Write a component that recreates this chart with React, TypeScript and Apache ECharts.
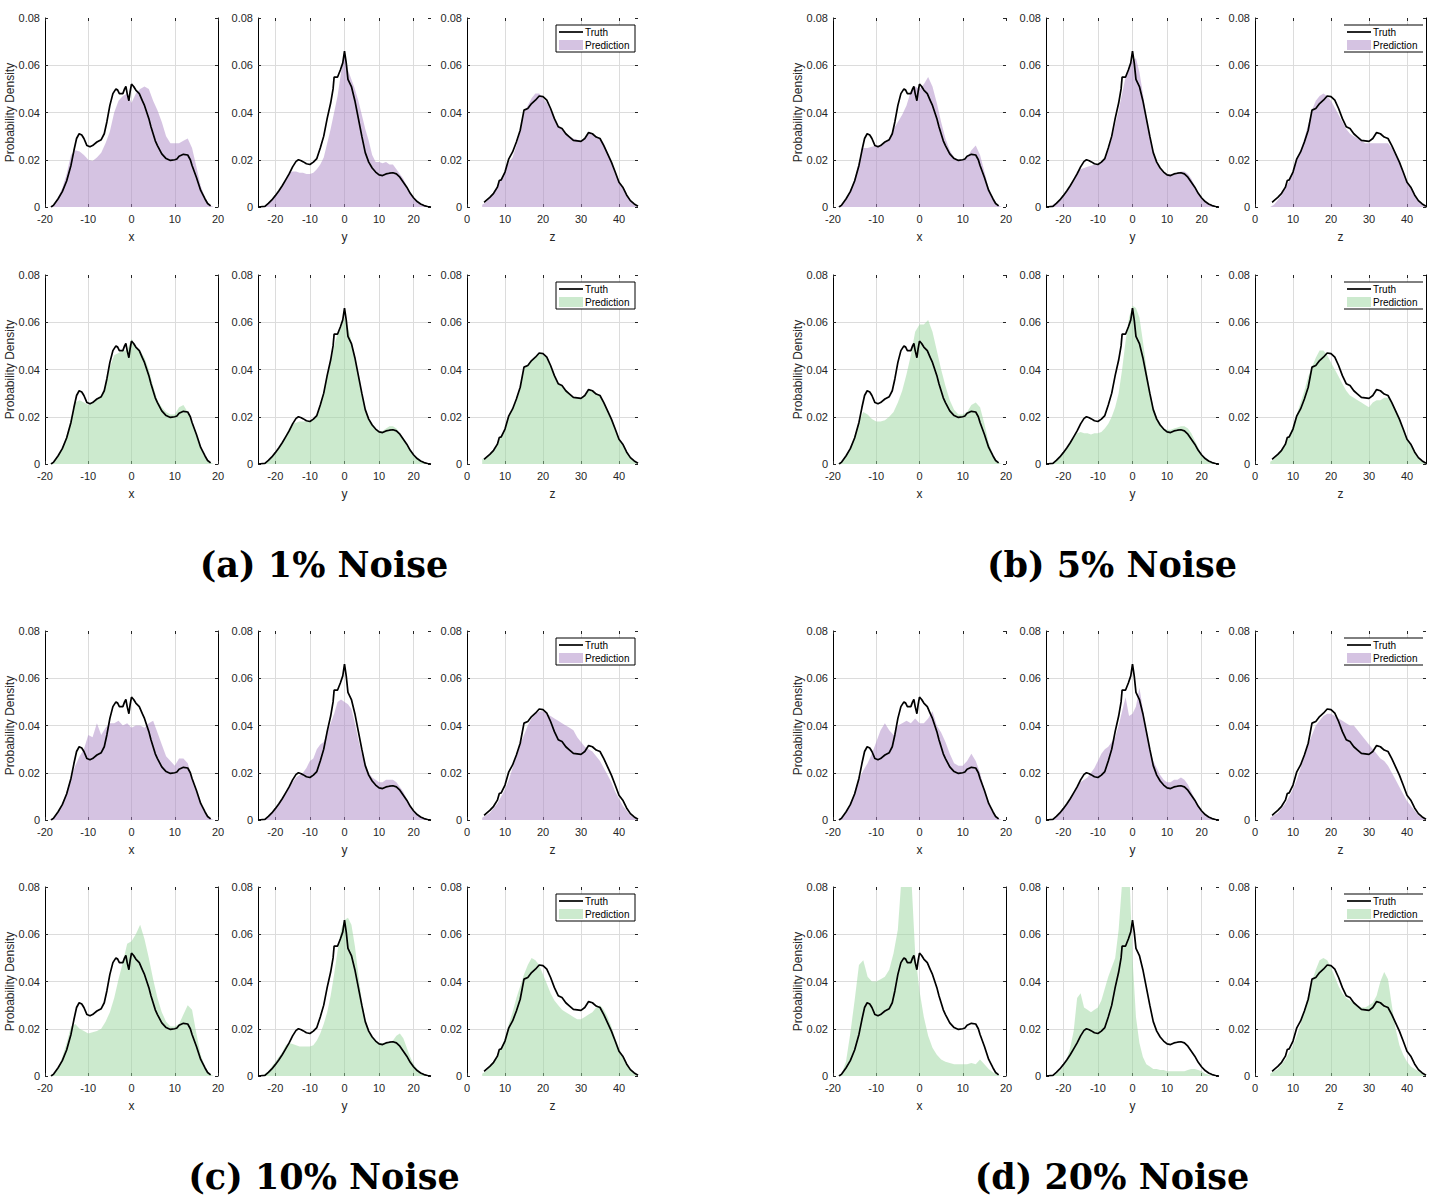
import React, { useEffect, useRef } from "react";
import * as echarts from "echarts";

type Pair = [number, number];

// ---- Ground-truth marginal densities (identical for every noise level) ----
const TRUTH_X: Pair[] = [
  [-18.6, 0], [-18, 0.0008], [-17, 0.0034], [-16, 0.0065], [-15, 0.011], [-14, 0.0176],
  [-13.3, 0.024], [-12.7, 0.029], [-12.1, 0.031], [-11.5, 0.0305], [-11, 0.029], [-10.3, 0.026],
  [-9.6, 0.0255], [-9, 0.026], [-8, 0.0275], [-7, 0.0285], [-6.3, 0.031], [-5.7, 0.036],
  [-5, 0.043], [-4.3, 0.048], [-3.6, 0.05], [-3.2, 0.0495], [-2.8, 0.048], [-2, 0.048],
  [-1.6, 0.05], [-1.3, 0.051], [-1, 0.048], [-0.6, 0.045], [-0.3, 0.049], [0, 0.052],
  [0.5, 0.051], [1, 0.0495], [1.8, 0.048], [2.5, 0.045], [3, 0.043], [4, 0.0375],
  [4.5, 0.034], [5, 0.031], [5.5, 0.028], [6, 0.026], [7, 0.0225], [8, 0.0205],
  [9, 0.0197], [10, 0.02], [10.5, 0.0203], [11, 0.0215], [12, 0.0223], [13, 0.022],
  [13.6, 0.02], [14, 0.0176], [15, 0.0126], [16, 0.007], [17, 0.0034], [17.6, 0.0015], [18.3, 0.0005],
];
const TRUTH_Y: Pair[] = [
  [-25, 0], [-23, 0.0003], [-22, 0.0015], [-21, 0.003], [-20, 0.0048], [-19, 0.0068],
  [-18, 0.009], [-17, 0.0115], [-16, 0.014], [-15, 0.017], [-14, 0.0193], [-13.3, 0.02],
  [-12.5, 0.0196], [-12, 0.0192], [-11, 0.0183], [-10, 0.018], [-9, 0.019], [-8, 0.0205],
  [-7, 0.025], [-6, 0.03], [-5, 0.0375], [-4, 0.044], [-3.3, 0.05], [-3, 0.055],
  [-2, 0.055], [-1.2, 0.058], [-0.5, 0.061], [0, 0.066], [0.5, 0.061], [1, 0.054],
  [2, 0.051], [3, 0.045], [4, 0.0375], [5, 0.03], [6, 0.023], [7, 0.019], [8, 0.0165],
  [9, 0.0148], [10, 0.0136], [11, 0.0133], [12, 0.014], [13, 0.0143], [14, 0.0145],
  [15, 0.014], [16, 0.0126], [17, 0.0105], [18, 0.0084], [19, 0.0058], [20, 0.0038],
  [21, 0.0023], [22, 0.0013], [23, 0.0006], [24, 0.0002], [25, 0],
];
const TRUTH_Z: Pair[] = [
  [4.5, 0.002], [5, 0.0027], [6, 0.0041], [7, 0.0058], [8, 0.0084], [8.5, 0.0112],
  [9, 0.0115], [10, 0.0148], [11, 0.0204], [12, 0.0233], [13, 0.0275], [14, 0.0325],
  [15, 0.041], [16, 0.0417], [17, 0.0438], [18, 0.0452], [19, 0.047], [20, 0.0467],
  [21, 0.0452], [22, 0.0417], [23, 0.0374], [24, 0.034], [25, 0.0332], [26, 0.031],
  [27, 0.0296], [28, 0.0282], [29, 0.028], [30, 0.0278], [31, 0.029], [32, 0.0315],
  [33, 0.031], [34, 0.0296], [35, 0.029], [36, 0.026], [37, 0.0225], [38, 0.019],
  [39, 0.0148], [40, 0.0105], [41, 0.0084], [42, 0.0051], [43, 0.0027], [44, 0.0013], [45, 0.0003],
];

// ---- Sample positions of the predicted densities ----
const X_SAMPLES = [
  -19, -18, -17, -16, -15, -14, -13, -12, -11, -10, -9, -8, -7, -6, -5, -4, -3, -2, -1, 0,
  1, 2, 3, 4, 5, 6, 7, 8, 9, 10, 11, 12, 13, 14, 15, 16, 17, 18, 19,
];
const Y_SAMPLES = [
  -25, -24, -23, -22, -21, -20, -19, -18, -17, -16, -15, -14, -13, -12, -11, -10, -9, -8, -7, -6,
  -5, -4, -3, -2, -1, 0, 1, 2, 3, 4, 5, 6, 7, 8, 9, 10, 11, 12, 13, 14,
  15, 16, 17, 18, 19, 20, 21, 22, 23, 24, 25,
];
const Z_SAMPLES = [
  4, 5, 6, 7, 8, 9, 10, 11, 12, 13, 14, 15, 16, 17, 18, 19, 20, 21, 22, 23, 24, 25, 26, 27,
  28, 29, 30, 31, 32, 33, 34, 35, 36, 37, 38, 39, 40, 41, 42, 43, 44, 45,
];

// ---- Predicted densities: 1% noise ----
const PRED_1_TOP_X = [0, 0.001, 0.004, 0.008, 0.014, 0.022, 0.024, 0.0235, 0.022, 0.02, 0.0195, 0.021, 0.023, 0.027, 0.032, 0.04, 0.045, 0.047, 0.048, 0.044, 0.048, 0.05, 0.051, 0.05, 0.045, 0.041, 0.036, 0.03, 0.027, 0.027, 0.027, 0.028, 0.029, 0.025, 0.017, 0.009, 0.004, 0.001, 0];
const PRED_1_TOP_Y = [0, 0, 0.0005, 0.002, 0.003, 0.005, 0.007, 0.009, 0.012, 0.0145, 0.015, 0.015, 0.0145, 0.0145, 0.014, 0.014, 0.0145, 0.016, 0.018, 0.021, 0.027, 0.033, 0.04, 0.047, 0.057, 0.066, 0.058, 0.054, 0.05, 0.045, 0.039, 0.033, 0.028, 0.022, 0.019, 0.019, 0.0185, 0.019, 0.018, 0.018, 0.016, 0.014, 0.012, 0.009, 0.006, 0.004, 0.0025, 0.0014, 0.0006, 0.0002, 0];
const PRED_1_TOP_Z = [0.001, 0.002, 0.004, 0.006, 0.009, 0.012, 0.015, 0.019, 0.021, 0.026, 0.032, 0.04, 0.043, 0.046, 0.048, 0.048, 0.046, 0.044, 0.041, 0.037, 0.034, 0.033, 0.031, 0.03, 0.029, 0.0285, 0.028, 0.029, 0.031, 0.031, 0.03, 0.029, 0.027, 0.023, 0.019, 0.015, 0.011, 0.008, 0.005, 0.003, 0.001, 0];
const PRED_1_BOT_X = [0, 0.001, 0.003, 0.007, 0.012, 0.019, 0.026, 0.027, 0.026, 0.025, 0.026, 0.027, 0.029, 0.033, 0.041, 0.046, 0.047, 0.048, 0.048, 0.053, 0.049, 0.048, 0.045, 0.04, 0.033, 0.027, 0.024, 0.022, 0.021, 0.021, 0.024, 0.025, 0.022, 0.018, 0.012, 0.007, 0.003, 0.001, 0];
const PRED_1_BOT_Y = [0, 0, 0.0005, 0.0015, 0.003, 0.005, 0.007, 0.009, 0.012, 0.015, 0.017, 0.0175, 0.018, 0.018, 0.018, 0.018, 0.019, 0.021, 0.025, 0.03, 0.037, 0.043, 0.05, 0.055, 0.058, 0.062, 0.058, 0.052, 0.045, 0.037, 0.029, 0.023, 0.019, 0.017, 0.015, 0.014, 0.014, 0.015, 0.016, 0.016, 0.015, 0.013, 0.011, 0.008, 0.006, 0.004, 0.0025, 0.0013, 0.0006, 0.0002, 0];
const PRED_1_BOT_Z = [0.002, 0.003, 0.004, 0.006, 0.009, 0.012, 0.015, 0.02, 0.023, 0.027, 0.032, 0.04, 0.042, 0.044, 0.045, 0.047, 0.046, 0.045, 0.042, 0.038, 0.034, 0.033, 0.031, 0.03, 0.028, 0.028, 0.028, 0.029, 0.031, 0.031, 0.03, 0.029, 0.026, 0.022, 0.019, 0.015, 0.011, 0.008, 0.005, 0.003, 0.001, 0];

// ---- Predicted densities: 5% noise ----
const PRED_5_TOP_X = [0, 0.001, 0.003, 0.007, 0.012, 0.019, 0.025, 0.025, 0.0255, 0.026, 0.026, 0.027, 0.029, 0.033, 0.036, 0.039, 0.043, 0.049, 0.051, 0.05, 0.052, 0.055, 0.051, 0.044, 0.036, 0.029, 0.024, 0.021, 0.02, 0.02, 0.021, 0.024, 0.026, 0.022, 0.015, 0.008, 0.004, 0.001, 0];
const PRED_5_TOP_Y = [0, 0.0003, 0.001, 0.002, 0.003, 0.005, 0.007, 0.009, 0.012, 0.015, 0.016, 0.0165, 0.017, 0.0175, 0.018, 0.018, 0.019, 0.021, 0.024, 0.029, 0.035, 0.041, 0.048, 0.055, 0.059, 0.062, 0.063, 0.057, 0.048, 0.038, 0.03, 0.023, 0.019, 0.016, 0.015, 0.014, 0.014, 0.014, 0.0145, 0.015, 0.015, 0.014, 0.012, 0.009, 0.006, 0.004, 0.0025, 0.0013, 0.0005, 0.0002, 0];
const PRED_5_TOP_Z = [0, 0.001, 0.003, 0.005, 0.008, 0.011, 0.015, 0.02, 0.024, 0.029, 0.035, 0.041, 0.045, 0.047, 0.048, 0.047, 0.045, 0.042, 0.039, 0.036, 0.033, 0.031, 0.03, 0.029, 0.028, 0.027, 0.027, 0.027, 0.027, 0.027, 0.027, 0.027, 0.025, 0.022, 0.019, 0.015, 0.011, 0.008, 0.005, 0.003, 0.001, 0];
const PRED_5_BOT_X = [0, 0.001, 0.003, 0.007, 0.012, 0.018, 0.022, 0.021, 0.019, 0.018, 0.018, 0.0185, 0.02, 0.022, 0.026, 0.031, 0.038, 0.046, 0.056, 0.059, 0.059, 0.061, 0.056, 0.048, 0.04, 0.033, 0.027, 0.023, 0.021, 0.021, 0.022, 0.025, 0.026, 0.024, 0.017, 0.009, 0.004, 0.001, 0];
const PRED_5_BOT_Y = [0, 0, 0.0005, 0.002, 0.003, 0.005, 0.007, 0.009, 0.011, 0.013, 0.0135, 0.013, 0.013, 0.0125, 0.013, 0.013, 0.0135, 0.015, 0.017, 0.02, 0.024, 0.03, 0.04, 0.052, 0.062, 0.067, 0.066, 0.062, 0.052, 0.041, 0.031, 0.024, 0.02, 0.017, 0.015, 0.0145, 0.0145, 0.015, 0.0155, 0.016, 0.016, 0.015, 0.013, 0.01, 0.007, 0.004, 0.0025, 0.0012, 0.0005, 0.0002, 0];
const PRED_5_BOT_Z = [0.001, 0.002, 0.004, 0.006, 0.009, 0.012, 0.016, 0.021, 0.026, 0.031, 0.037, 0.041, 0.045, 0.048, 0.048, 0.046, 0.043, 0.04, 0.037, 0.034, 0.031, 0.029, 0.028, 0.027, 0.026, 0.025, 0.024, 0.026, 0.027, 0.027, 0.028, 0.028, 0.026, 0.023, 0.019, 0.015, 0.011, 0.008, 0.005, 0.003, 0.001, 0];

// ---- Predicted densities: 10% noise ----
const PRED_10_TOP_X = [0, 0.001, 0.003, 0.007, 0.012, 0.018, 0.023, 0.027, 0.03, 0.036, 0.035, 0.041, 0.036, 0.039, 0.041, 0.041, 0.042, 0.04, 0.041, 0.039, 0.04, 0.04, 0.039, 0.041, 0.042, 0.037, 0.032, 0.027, 0.025, 0.023, 0.026, 0.026, 0.024, 0.018, 0.012, 0.007, 0.003, 0.001, 0];
const PRED_10_TOP_Y = [0, 0, 0.0005, 0.0015, 0.003, 0.005, 0.007, 0.009, 0.012, 0.014, 0.016, 0.018, 0.019, 0.02, 0.022, 0.025, 0.026, 0.03, 0.032, 0.033, 0.037, 0.041, 0.045, 0.05, 0.051, 0.05, 0.049, 0.047, 0.041, 0.034, 0.028, 0.024, 0.02, 0.018, 0.017, 0.016, 0.016, 0.017, 0.017, 0.017, 0.016, 0.014, 0.012, 0.009, 0.006, 0.004, 0.0025, 0.0013, 0.0005, 0.0002, 0];
const PRED_10_TOP_Z = [0.001, 0.002, 0.003, 0.005, 0.007, 0.01, 0.013, 0.017, 0.022, 0.027, 0.032, 0.036, 0.04, 0.043, 0.045, 0.046, 0.046, 0.045, 0.044, 0.043, 0.042, 0.041, 0.04, 0.039, 0.038, 0.035, 0.033, 0.031, 0.03, 0.029, 0.027, 0.025, 0.022, 0.019, 0.016, 0.012, 0.009, 0.006, 0.004, 0.002, 0.001, 0];
const PRED_10_BOT_X = [0, 0.001, 0.003, 0.008, 0.014, 0.021, 0.022, 0.02, 0.019, 0.018, 0.0185, 0.019, 0.02, 0.023, 0.027, 0.033, 0.041, 0.048, 0.056, 0.057, 0.06, 0.064, 0.058, 0.05, 0.041, 0.033, 0.027, 0.023, 0.021, 0.021, 0.022, 0.026, 0.03, 0.028, 0.018, 0.009, 0.004, 0.001, 0];
const PRED_10_BOT_Y = [0, 0, 0.001, 0.002, 0.004, 0.006, 0.008, 0.01, 0.013, 0.014, 0.0135, 0.013, 0.0125, 0.0125, 0.0125, 0.0125, 0.013, 0.015, 0.018, 0.022, 0.027, 0.034, 0.043, 0.053, 0.062, 0.066, 0.067, 0.064, 0.055, 0.043, 0.032, 0.024, 0.019, 0.016, 0.015, 0.014, 0.014, 0.014, 0.014, 0.015, 0.017, 0.018, 0.016, 0.012, 0.008, 0.005, 0.003, 0.0015, 0.0006, 0.0002, 0];
const PRED_10_BOT_Z = [0.001, 0.002, 0.004, 0.006, 0.009, 0.012, 0.016, 0.022, 0.027, 0.033, 0.038, 0.043, 0.047, 0.05, 0.049, 0.047, 0.043, 0.039, 0.035, 0.032, 0.03, 0.028, 0.027, 0.026, 0.025, 0.024, 0.024, 0.025, 0.026, 0.027, 0.029, 0.03, 0.028, 0.025, 0.021, 0.016, 0.012, 0.008, 0.005, 0.003, 0.001, 0];

// ---- Predicted densities: 20% noise ----
const PRED_20_TOP_X = [0, 0.001, 0.003, 0.007, 0.012, 0.017, 0.021, 0.024, 0.028, 0.033, 0.038, 0.041, 0.038, 0.036, 0.04, 0.041, 0.042, 0.041, 0.043, 0.041, 0.041, 0.043, 0.046, 0.04, 0.037, 0.033, 0.028, 0.024, 0.023, 0.023, 0.025, 0.028, 0.025, 0.02, 0.013, 0.007, 0.003, 0.001, 0];
const PRED_20_TOP_Y = [0, 0, 0.0005, 0.0015, 0.003, 0.005, 0.007, 0.009, 0.012, 0.014, 0.016, 0.017, 0.018, 0.02, 0.022, 0.025, 0.028, 0.03, 0.031, 0.033, 0.035, 0.04, 0.046, 0.052, 0.044, 0.045, 0.048, 0.056, 0.047, 0.037, 0.03, 0.025, 0.022, 0.019, 0.017, 0.016, 0.016, 0.017, 0.017, 0.018, 0.017, 0.015, 0.012, 0.009, 0.006, 0.004, 0.0025, 0.0013, 0.0005, 0.0002, 0];
const PRED_20_TOP_Z = [0.001, 0.002, 0.003, 0.005, 0.007, 0.01, 0.013, 0.017, 0.022, 0.027, 0.032, 0.036, 0.04, 0.042, 0.044, 0.045, 0.045, 0.044, 0.043, 0.042, 0.041, 0.04, 0.04, 0.038, 0.036, 0.034, 0.032, 0.03, 0.028, 0.026, 0.025, 0.023, 0.02, 0.017, 0.014, 0.011, 0.008, 0.006, 0.004, 0.002, 0.001, 0];
const PRED_20_BOT_X = [0, 0.001, 0.006, 0.018, 0.032, 0.047, 0.049, 0.042, 0.04, 0.04, 0.041, 0.042, 0.045, 0.052, 0.062, 0.088, 0.095, 0.088, 0.052, 0.036, 0.025, 0.017, 0.012, 0.009, 0.007, 0.006, 0.0055, 0.005, 0.005, 0.005, 0.005, 0.0055, 0.005, 0.007, 0.005, 0.003, 0.0015, 0.0005, 0];
const PRED_20_BOT_Y = [0, 0, 0, 0.001, 0.002, 0.004, 0.007, 0.012, 0.019, 0.033, 0.035, 0.029, 0.028, 0.027, 0.028, 0.029, 0.032, 0.037, 0.042, 0.046, 0.05, 0.062, 0.082, 0.09, 0.09, 0.05, 0.025, 0.014, 0.008, 0.005, 0.004, 0.003, 0.003, 0.0025, 0.0025, 0.002, 0.002, 0.002, 0.002, 0.002, 0.002, 0.0025, 0.003, 0.003, 0.0025, 0.002, 0.001, 0.0005, 0, 0, 0];
const PRED_20_BOT_Z = [0.001, 0.002, 0.003, 0.005, 0.007, 0.01, 0.013, 0.017, 0.022, 0.028, 0.034, 0.04, 0.045, 0.049, 0.05, 0.049, 0.046, 0.042, 0.038, 0.035, 0.033, 0.032, 0.031, 0.03, 0.029, 0.029, 0.03, 0.031, 0.034, 0.04, 0.044, 0.041, 0.03, 0.02, 0.013, 0.009, 0.006, 0.004, 0.003, 0.002, 0.001, 0];

// ---- Labels ----
const CAPTIONS = ["(a) 1% Noise", "(b) 5% Noise", "(c) 10% Noise", "(d) 20% Noise"];
const X_TICKS = [-20, -10, 0, 10, 20];
const Y_TICKS = [-20, -10, 0, 10, 20];
const Z_TICKS = [0, 10, 20, 30, 40];
const DENSITY_LABEL = "Probability Density";
const LEGEND_TRUTH = "Truth";
const LEGEND_PRED = "Prediction";

// ---- Styling / layout ----
const PURPLE = "rgba(171,136,197,0.5)";
const GREEN = "rgba(153,213,157,0.5)";
const TEXT = "#262626";
const GRID_LINE = "#dcdcdc";
const SANS = "'Liberation Sans', Arial, Helvetica, sans-serif";
const SERIF = "'DejaVu Serif', 'Liberation Serif', serif";

const COL_LEFT = [45, 258, 467];
const COL_WIDTH = [173, 173, 171];
const ROW_H = 189;
const PANEL_DX = [0, 788, 0, 788];
const PANEL_TOPS = [[18, 275], [18, 275], [631, 887], [631, 887]];
const CAPTION_Y = [564, 564, 1176, 1176];

type Variable = {
  name: string;
  min: number;
  max: number;
  interval: number;
  ticks: number[];
  samples: number[];
  truth: Pair[];
  showMinLine: boolean;
  showMaxLine: boolean;
};

const VARIABLES: Variable[] = [
  { name: "x", min: -20, max: 20, interval: 10, ticks: X_TICKS, samples: X_SAMPLES, truth: TRUTH_X, showMinLine: false, showMaxLine: false },
  { name: "y", min: -25, max: 25, interval: 5, ticks: Y_TICKS, samples: Y_SAMPLES, truth: TRUTH_Y, showMinLine: true, showMaxLine: true },
  { name: "z", min: 0, max: 45, interval: 5, ticks: Z_TICKS, samples: Z_SAMPLES, truth: TRUTH_Z, showMinLine: false, showMaxLine: true },
];

const PANELS = [
  { top: [PRED_1_TOP_X, PRED_1_TOP_Y, PRED_1_TOP_Z], bottom: [PRED_1_BOT_X, PRED_1_BOT_Y, PRED_1_BOT_Z] },
  { top: [PRED_5_TOP_X, PRED_5_TOP_Y, PRED_5_TOP_Z], bottom: [PRED_5_BOT_X, PRED_5_BOT_Y, PRED_5_BOT_Z] },
  { top: [PRED_10_TOP_X, PRED_10_TOP_Y, PRED_10_TOP_Z], bottom: [PRED_10_BOT_X, PRED_10_BOT_Y, PRED_10_BOT_Z] },
  { top: [PRED_20_TOP_X, PRED_20_TOP_Y, PRED_20_TOP_Z], bottom: [PRED_20_BOT_X, PRED_20_BOT_Y, PRED_20_BOT_Z] },
];

// which sub-axes show a dark right border
function hasRightBorder(panel: number, row: number, col: number): boolean {
  if (col === 0) return panel === 0 || panel === 2 || (panel === 3 && row === 1);
  if (col === 2) return panel === 1;
  return false;
}

function buildOption() {
  const grid: any[] = [];
  const xAxis: any[] = [];
  const yAxis: any[] = [];
  const series: any[] = [];
  const graphic: any[] = [];
  let gi = 0;

  PANELS.forEach((panel, p) => {
    const dx = PANEL_DX[p];
    [panel.top, panel.bottom].forEach((preds, r) => {
      const top = PANEL_TOPS[p][r];
      const fill = r === 0 ? PURPLE : GREEN;
      VARIABLES.forEach((v, c) => {
        const left = COL_LEFT[c] + dx;
        const width = COL_WIDTH[c];
        grid.push({ left, top, width, height: ROW_H, containLabel: false });

        xAxis.push({
          gridIndex: gi,
          type: "value",
          min: v.min,
          max: v.max,
          interval: v.interval,
          axisLine: { show: false, onZero: false },
          axisTick: { show: true, inside: true, length: 3, customValues: v.ticks, lineStyle: { color: TEXT } },
          axisLabel: { customValues: v.ticks, fontSize: 11, color: TEXT, fontFamily: SANS, margin: 6 },
          splitLine: {
            show: true,
            showMinLine: v.showMinLine,
            showMaxLine: v.showMaxLine,
            lineStyle: { color: GRID_LINE, width: 1 },
          },
          name: v.name,
          nameLocation: "middle",
          nameGap: 24,
          nameTextStyle: { fontSize: 12, color: TEXT, fontFamily: SANS },
        });
        xAxis.push({
          gridIndex: gi,
          type: "value",
          position: "top",
          min: v.min,
          max: v.max,
          interval: v.interval,
          axisLine: { show: false, onZero: false },
          axisTick: { show: true, inside: true, length: 3, customValues: v.ticks, lineStyle: { color: TEXT } },
          axisLabel: { show: false },
          splitLine: { show: false },
        });
        yAxis.push({
          gridIndex: gi,
          type: "value",
          position: "left",
          min: 0,
          max: 0.08,
          interval: 0.02,
          axisLine: { show: true, onZero: false, lineStyle: { color: "#000", width: 1 } },
          axisTick: { show: true, inside: true, length: 3, lineStyle: { color: TEXT } },
          axisLabel: {
            fontSize: 11,
            color: TEXT,
            fontFamily: SANS,
            margin: 5,
            formatter: (val: number) => (val === 0 ? "0" : val.toFixed(2)),
          },
          splitLine: { show: true, showMinLine: false, showMaxLine: false, lineStyle: { color: GRID_LINE, width: 1 } },
        });
        yAxis.push({
          gridIndex: gi,
          type: "value",
          position: "right",
          min: 0,
          max: 0.08,
          interval: 0.02,
          axisLine: { show: hasRightBorder(p, r, c), onZero: false, lineStyle: { color: "#000", width: 1 } },
          axisTick: { show: true, inside: true, length: 3, lineStyle: { color: TEXT } },
          axisLabel: { show: false },
          splitLine: { show: false },
        });

        const predValues = preds[c];
        series.push({
          type: "line",
          xAxisIndex: 2 * gi,
          yAxisIndex: 2 * gi,
          data: v.samples.map((s, i) => [s, predValues[i]]),
          symbol: "none",
          lineStyle: { width: 0, opacity: 0 },
          areaStyle: { color: fill, opacity: 1 },
          silent: true,
          clip: true,
          z: 2,
        });
        series.push({
          type: "line",
          xAxisIndex: 2 * gi,
          yAxisIndex: 2 * gi,
          data: v.truth,
          symbol: "none",
          lineStyle: { color: "#000", width: 1.7 },
          silent: true,
          clip: true,
          z: 3,
        });
        gi++;
      });

      // y-axis title of the row
      graphic.push({
        type: "text",
        x: 10 + dx,
        y: top + ROW_H / 2,
        rotation: Math.PI / 2,
        z: 100,
        style: {
          text: DENSITY_LABEL,
          fill: TEXT,
          font: `12px ${SANS}`,
          align: "center",
          verticalAlign: "middle",
        },
      });

      // legend in the right-hand sub-axes
      const right = COL_LEFT[2] + COL_WIDTH[2] + dx;
      const bx = right - 82;
      const by = top + 7;
      const bw = 79;
      const bh = 27;
      const fullBox = p === 0 || p === 2;
      graphic.push({
        type: "rect",
        z: 100,
        shape: { x: bx, y: by, width: bw, height: bh },
        style: fullBox ? { fill: "#fff", stroke: "#000", lineWidth: 1 } : { fill: "#fff" },
      });
      if (!fullBox) {
        graphic.push({ type: "line", z: 101, shape: { x1: bx, y1: by, x2: bx + bw, y2: by }, style: { stroke: "#000", lineWidth: 1 } });
        graphic.push({ type: "line", z: 101, shape: { x1: bx, y1: by + bh, x2: bx + bw, y2: by + bh }, style: { stroke: "#000", lineWidth: 1 } });
      }
      graphic.push({
        type: "line",
        z: 101,
        shape: { x1: bx + 3, y1: by + 7, x2: bx + 27, y2: by + 7 },
        style: { stroke: "#000", lineWidth: 1.7 },
      });
      graphic.push({
        type: "rect",
        z: 101,
        shape: { x: bx + 3, y: by + 15, width: 24, height: 10 },
        style: { fill: fill },
      });
      graphic.push({
        type: "text",
        z: 101,
        x: bx + 29,
        y: by + 7,
        style: { text: LEGEND_TRUTH, fill: "#000", font: `10px ${SANS}`, verticalAlign: "middle" },
      });
      graphic.push({
        type: "text",
        z: 101,
        x: bx + 29,
        y: by + 20,
        style: { text: LEGEND_PRED, fill: "#000", font: `10px ${SANS}`, verticalAlign: "middle" },
      });
    });

    graphic.push({
      type: "text",
      z: 100,
      x: 324 + dx,
      y: CAPTION_Y[p],
      style: {
        text: CAPTIONS[p],
        fill: "#000",
        font: `bold 35px ${SERIF}`,
        align: "center",
        verticalAlign: "middle",
      },
    });
  });

  return {
    animation: false,
    backgroundColor: "#ffffff",
    grid,
    xAxis,
    yAxis,
    series,
    graphic,
  };
}

export default function App() {
  const ref = useRef<HTMLDivElement>(null);
  useEffect(() => {
    if (!ref.current) return;
    const chart = echarts.init(ref.current, undefined, { renderer: "svg" });
    chart.setOption(buildOption());
    return () => chart.dispose();
  }, []);
  return (
    <div
      ref={ref}
      style={{ position: "absolute", left: 0, top: 0, width: 1433, height: 1197, background: "#fff" }}
    />
  );
}
